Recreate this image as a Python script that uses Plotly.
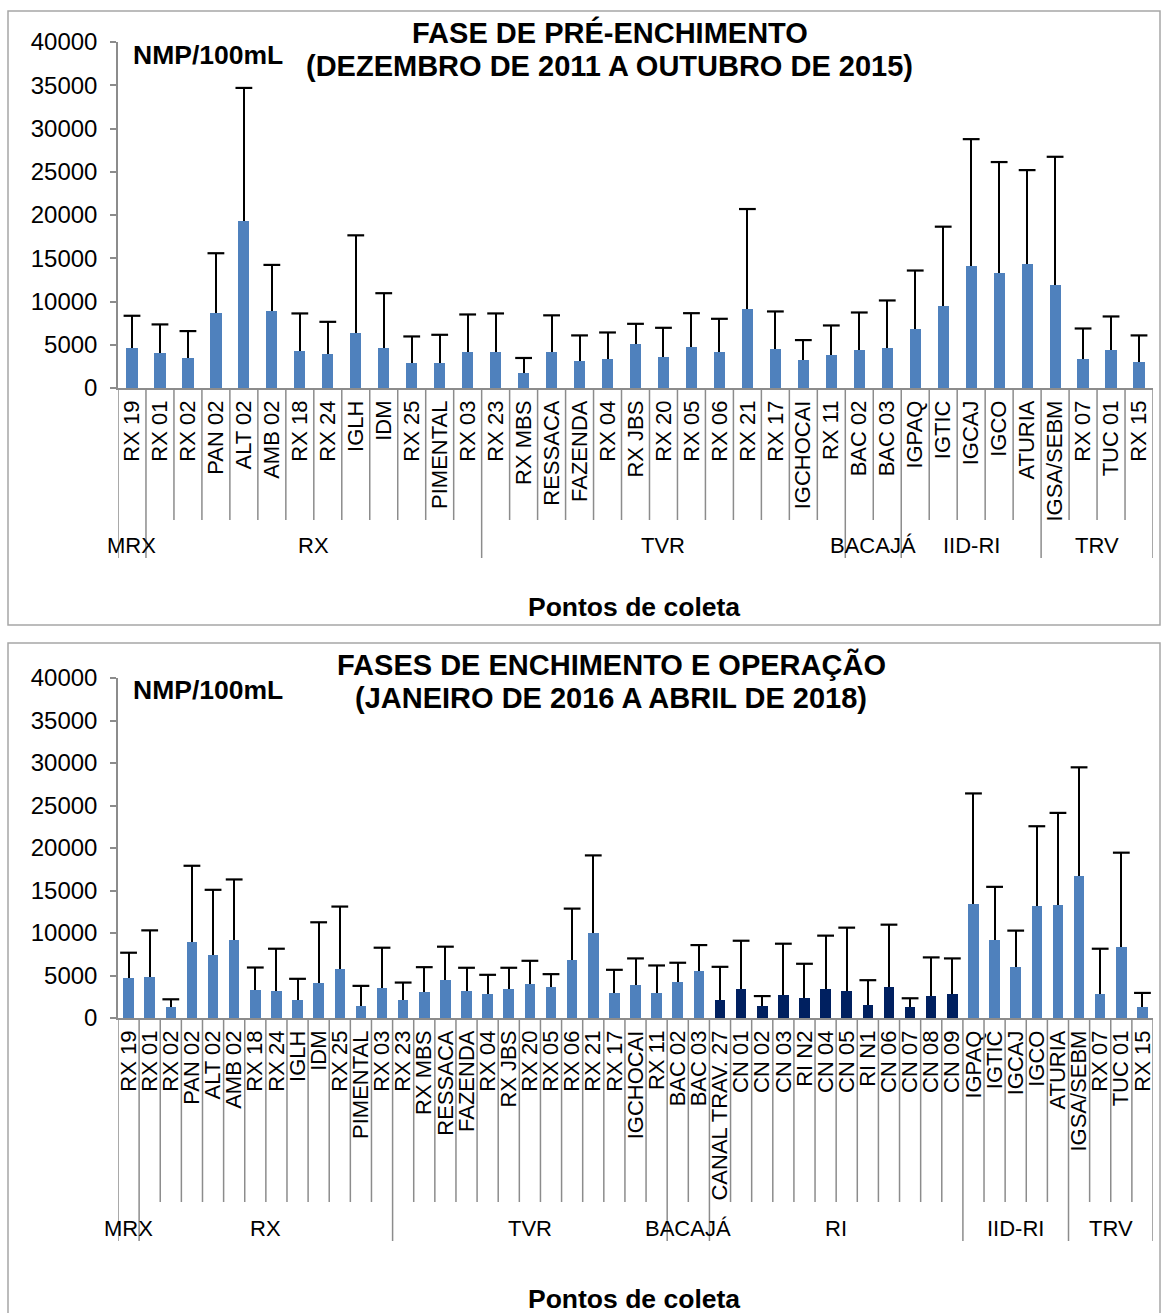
import plotly.graph_objects as go

W, H = 1161, 1313

cats1 = ["RX 19", "RX 01", "RX 02", "PAN 02", "ALT 02", "AMB 02", "RX 18", "RX 24", "IGLH", "IDM",
         "RX 25", "PIMENTAL", "RX 03", "RX 23", "RX MBS", "RESSACA", "FAZENDA", "RX 04", "RX JBS",
         "RX 20", "RX 05", "RX 06", "RX 21", "RX 17", "IGCHOCAI", "RX 11", "BAC 02", "BAC 03",
         "IGPAQ", "IGTIC", "IGCAJ", "IGCO", "ATURIA", "IGSA/SEBM", "RX 07", "TUC 01", "RX 15"]
mean1 = [4650, 4040, 3500, 8690, 19310, 8880, 4230, 3920, 6380, 4650, 2920, 2920, 4120, 4120,
         1700, 4120, 3080, 3350, 5040, 3540, 4770, 4190, 9150, 4460, 3270, 3770, 4350, 4580,
         6850, 9500, 14120, 13310, 14350, 11920, 3380, 4350, 2960]
sd1 = [3700, 3310, 3080, 6890, 15380, 5350, 4390, 3730, 11270, 6310, 3040, 3230, 4380, 4500,
       1770, 4280, 3000, 3070, 2380, 3420, 3880, 3810, 11540, 4390, 2270, 3460, 4380, 5540,
       6730, 9150, 14650, 12810, 10840, 14810, 3500, 3920, 3120]
groups1 = [("MRX", 0, 1), ("RX", 1, 13), ("TVR", 13, 26), ("BACAJÁ", 26, 28),
           ("IID-RI", 28, 33), ("TRV", 33, 37)]

cats2 = ["RX 19", "RX 01", "RX 02", "PAN 02", "ALT 02", "AMB 02", "RX 18", "RX 24", "IGLH", "IDM",
         "RX 25", "PIMENTAL", "RX 03", "RX 23", "RX MBS", "RESSACA", "FAZENDA", "RX 04", "RX JBS",
         "RX 20", "RX 05", "RX 06", "RX 21", "RX 17", "IGCHOCAI", "RX 11", "BAC 02", "BAC 03",
         "CANAL TRAV. 27", "CN 01", "CN 02", "CN 03", "RI N2", "CN 04", "CN 05", "RI N1", "CN 06",
         "CN 07", "CN 08", "CN 09", "IGPAQ", "IGTIC", "IGCAJ", "IGCO", "ATURIA", "IGSA/SEBM",
         "RX 07", "TUC 01", "RX 15"]
mean2 = [4720, 4800, 1300, 8940, 7400, 9210, 3270, 3150, 2090, 4090, 5750, 1460, 3500, 2170,
         3070, 4490, 3230, 2800, 3390, 3980, 3660, 6850, 9960, 2910, 3900, 2950, 4250, 5550,
         2090, 3430, 1380, 2680, 2320, 3390, 3150, 1500, 3620, 1260, 2560, 2800,
         13430, 9130, 5980, 13190, 13310, 16730, 2870, 8390, 1300]
sd2 = [2960, 5510, 900, 8970, 7680, 7090, 2670, 5000, 2520, 7170, 7360, 2320, 4770, 2000,
       2910, 3900, 2680, 2280, 2520, 2750, 1500, 6020, 9170, 2760, 3110, 3230, 2250, 3030,
       3930, 5660, 1200, 6060, 4060, 6300, 7480, 2950, 7360, 1060, 4570, 4210,
       12990, 6300, 4300, 9370, 10820, 12760, 5280, 11060, 1650]
dark2 = ["CANAL TRAV. 27", "CN 01", "CN 02", "CN 03", "RI N2", "CN 04", "CN 05", "RI N1", "CN 06",
         "CN 07", "CN 08", "CN 09"]
groups2 = [("MRX", 0, 1), ("RX", 1, 13), ("TVR", 13, 26), ("BACAJÁ", 26, 28), ("RI", 28, 40),
           ("IID-RI", 40, 45), ("TRV", 45, 49)]

y_ticks = [0, 5000, 10000, 15000, 20000, 25000, 30000, 35000, 40000]

LIGHT = "#4F81BD"
DARK = "#002060"
FONT = "Liberation Sans, Arial, sans-serif"
AXC = "#8c8c8c"


def fx(px):
    return px / W


def fy(py):
    return 1 - py / H


fig = go.Figure()


def add_panel(cats, mean, sd, colors, barw, xa, ya):
    tops = [m + s for m, s in zip(mean, sd)]
    fig.add_trace(go.Bar(
        x=cats, y=mean, width=barw, marker=dict(color=colors, line=dict(width=0)),
        error_y=dict(type="data", symmetric=False, array=sd, arrayminus=[0] * len(sd),
                     color="black", thickness=2, width=0),
        xaxis=xa, yaxis=ya, showlegend=False, hoverinfo="x+y"))
    fig.add_trace(go.Scatter(
        x=cats, y=tops, mode="markers",
        marker=dict(symbol="line-ew", size=12, line=dict(color="black", width=2.2)),
        xaxis=xa, yaxis=ya, showlegend=False, hoverinfo="skip"))


add_panel(cats1, mean1, sd1, LIGHT, 0.4, "x", "y")
colors2 = [DARK if c in dark2 else LIGHT for c in cats2]
add_panel(cats2, mean2, sd2, colors2, 0.5, "x2", "y2")

x_left, x_right = 118, 1153
# panel pixel geometry
P1 = dict(top=42, base=388, tick_end=520, grp_end=558, grp_y=546)
P2 = dict(top=678, base=1018, tick_end=1202, grp_end=1241, grp_y=1228)

xcommon = dict(type="category", showline=True, linecolor=AXC, linewidth=1.5, ticks="",
               tickangle=-90, tickfont=dict(size=22, color="black", family=FONT),
               showgrid=False, zeroline=False, ticklabelstandoff=2, fixedrange=True)
ycommon = dict(range=[0, 40000], tickmode="array", tickvals=y_ticks,
               ticktext=[str(v) for v in y_ticks], showline=True, linecolor=AXC, linewidth=1.5,
               ticks="outside", ticklen=6, tickcolor=AXC, tickwidth=1.5,
               tickfont=dict(size=24, color="black", family=FONT), showgrid=False,
               zeroline=False, ticklabelstandoff=8, fixedrange=True)

fig.update_layout(
    width=W, height=H, margin=dict(l=0, r=0, t=0, b=0),
    paper_bgcolor="white", plot_bgcolor="white", template="none",
    font=dict(family=FONT, color="black"), bargap=0,
    xaxis=dict(xcommon, domain=[fx(x_left), fx(x_right)], anchor="y",
               tickmode="array", tickvals=cats1, ticktext=cats1, range=[-0.5, len(cats1) - 0.5]),
    yaxis=dict(ycommon, domain=[fy(P1["base"]), fy(P1["top"])], anchor="x"),
    xaxis2=dict(xcommon, domain=[fx(x_left), fx(x_right)], anchor="y2",
                tickmode="array", tickvals=cats2, ticktext=cats2, range=[-0.5, len(cats2) - 0.5]),
    yaxis2=dict(ycommon, domain=[fy(P2["base"]), fy(P2["top"])], anchor="x2"),
)

shapes = []
annotations = []

# outer frames
FRAME = "#a6a6a6"
shapes.append(dict(type="rect", xref="paper", yref="paper", x0=fx(8), x1=fx(1160),
                   y0=fy(625), y1=fy(11), line=dict(color=FRAME, width=1.5), layer="below"))
shapes.append(dict(type="rect", xref="paper", yref="paper", x0=fx(8), x1=fx(1160),
                   y0=fy(1330), y1=fy(643), line=dict(color=FRAME, width=1.5), layer="below"))


def add_dividers(n, groups, P, xref):
    bounds = set()
    for _, a, b in groups:
        bounds.add(a)
        bounds.add(b)
    for k in range(n + 1):
        end = P["grp_end"] if k in bounds else P["tick_end"]
        shapes.append(dict(type="line", xref=xref, yref="paper", x0=k - 0.5, x1=k - 0.5,
                           y0=fy(P["base"]), y1=fy(end), line=dict(color=AXC, width=1.5)))
    for name, a, b in groups:
        annotations.append(dict(text=name, xref=xref, yref="paper", x=(a + b - 1) / 2,
                                y=fy(P["grp_y"]), showarrow=False, xanchor="center",
                                yanchor="middle", font=dict(size=22, color="black", family=FONT)))


add_dividers(len(cats1), groups1, P1, "x")
add_dividers(len(cats2), groups2, P2, "x2")


def txt(s, x, y, size, xanchor="center"):
    annotations.append(dict(text=s, xref="paper", yref="paper", x=fx(x), y=fy(y),
                            showarrow=False, xanchor=xanchor, yanchor="middle",
                            font=dict(size=size, color="black", family=FONT)))


txt("<b>FASE DE PRÉ-ENCHIMENTO</b>", 610, 32, 29)
txt("<b>(DEZEMBRO DE 2011 A OUTUBRO DE 2015)</b>", 609, 66, 29)
txt("<b>NMP/100mL</b>", 131, 55, 26.5, xanchor="left")
txt("<b>Pontos de coleta</b>", 634, 607, 26.5)

txt("<b>FASES DE ENCHIMENTO E OPERAÇÃO</b>", 611, 664, 29)
txt("<b>(JANEIRO DE 2016 A ABRIL DE 2018)</b>", 611, 698, 29)
txt("<b>NMP/100mL</b>", 131, 690, 26.5, xanchor="left")
txt("<b>Pontos de coleta</b>", 634, 1299, 26.5)

fig.update_layout(shapes=shapes, annotations=annotations)

fig.write_html("out.html", config={"displayModeBar": False},
               post_script="document.body.style.margin='0';")
